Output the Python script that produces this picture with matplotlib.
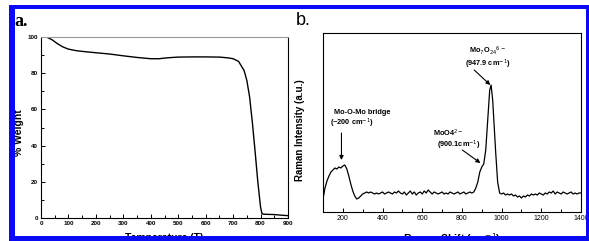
import matplotlib
matplotlib.use("Agg")
import matplotlib.pyplot as plt
from matplotlib.patches import Rectangle
from matplotlib.ticker import MultipleLocator

# TGA data (panel a)
temperature = [20, 40, 60, 80, 100, 130, 160, 200, 250, 300, 350, 400, 430, 460,
               500, 550, 600, 650, 680, 700, 720, 740, 750, 760, 770, 780, 790,
               800, 805, 810, 850, 880, 900]
weight = [100, 98.5, 96.3, 94.5, 93.3, 92.4, 91.9, 91.3, 90.6, 89.6, 88.7, 88.0,
          88.0, 88.5, 88.9, 89.0, 89.0, 88.9, 88.5, 88.0, 86.5, 81.5, 76, 67, 53,
          37, 20, 6, 2.5, 2.1, 1.9, 1.5, 1.3]

# Raman data (panel b), arbitrary intensity units
raman_shift = [100, 101, 110, 120, 130, 140, 150, 160, 170, 180, 190, 200, 210,
               220, 230, 240, 250, 260, 270, 280, 290, 300, 310, 320, 330, 340,
               350, 360, 370, 380, 390, 400, 410, 420, 430, 440, 450, 460, 470,
               480, 490, 500, 510, 520, 530, 540, 550, 560, 570, 580, 590, 600,
               610, 620, 630, 640, 650, 660, 670, 680, 690, 700, 710, 720, 730,
               740, 750, 760, 770, 780, 790, 800, 810, 820, 830, 840, 850, 860,
               870, 880, 890, 900, 910, 920, 930, 940, 947, 955, 960, 970, 980,
               990, 1000, 1010, 1020, 1030, 1040, 1050, 1060, 1070, 1080, 1090,
               1100, 1110, 1120, 1130, 1140, 1150, 1160, 1170, 1180, 1190, 1200,
               1210, 1220, 1230, 1240, 1250, 1260, 1270, 1280, 1290, 1300, 1310,
               1320, 1330, 1340, 1350, 1360, 1370, 1380, 1390, 1400]
raman_int = [0, 14, 24, 31, 36, 40, 42, 44, 43, 45, 44, 46, 47,
             43, 36, 28, 21, 16, 13, 14, 16, 18, 19, 20, 19, 20,
             19, 18, 19, 18, 19, 20, 18, 19, 20, 19, 18, 20, 19,
             21, 19, 18, 20, 17, 19, 21, 18, 20, 17, 19, 20, 18,
             21, 19, 22, 20, 18, 20, 19, 18, 19, 20, 18, 19, 18,
             20, 19, 18, 19, 20, 18, 19, 20, 18, 19, 20, 19, 20,
             24, 30, 40, 45, 48, 62, 92, 122, 127, 112, 95, 60, 30,
             19, 18, 19, 17, 18, 17, 18, 16, 17, 15, 16,
             14, 16, 15, 17, 16, 18, 17, 18, 17, 19, 18,
             17, 19, 18, 20, 19, 21, 18, 20, 19, 18, 20,
             19, 18, 19, 20, 18, 19, 18, 19, 19]

W, H = 589, 241
fig = plt.figure(figsize=(W / 100, H / 100), dpi=100)
fig.patch.set_facecolor("white")


def px_rect(left, top, right, bottom):
    return [left / W, 1 - bottom / H, (right - left) / W, (bottom - top) / H]


bold = dict(family="Liberation Sans", fontweight="bold")

# ---- panel a ----
ax1 = fig.add_axes(px_rect(41, 37, 288, 218))
ax1.plot(temperature, weight, color="black", lw=1.0)
ax1.set_xlim(0, 900)
ax1.set_ylim(0, 100)
ax1.xaxis.set_major_locator(MultipleLocator(100))
ax1.xaxis.set_minor_locator(MultipleLocator(50))
ax1.yaxis.set_major_locator(MultipleLocator(20))
ax1.yaxis.set_minor_locator(MultipleLocator(10))
ax1.tick_params(which="both", direction="in", top=False, right=False, width=0.7)
ax1.tick_params(which="major", length=3, labelsize=4.5, pad=2)
ax1.tick_params(which="minor", length=2)
for lab in ax1.get_xticklabels() + ax1.get_yticklabels():
    lab.set_fontweight("bold")
    lab.set_family("Liberation Sans")
for s in ax1.spines.values():
    s.set_linewidth(0.8)
ax1.spines["top"].set_color("#999999")
fig.text(18.5 / W, 1 - 133 / H, "% Weight", rotation=90, ha="center", va="center",
         fontsize=7.5, **bold)
fig.text(164.5 / W, 1 - 233 / H, "Temperature (T)", ha="center", va="top",
         fontsize=7.5, **bold)
fig.text(14 / W, 1 - 26 / H, "a.", ha="left", va="baseline", fontsize=13,
         family="Liberation Serif", fontweight="bold")

# ---- panel b ----
ax2 = fig.add_axes(px_rect(323, 33, 581, 212))
ax2.plot(raman_shift, raman_int, color="black", lw=0.9)
ax2.set_xlim(100, 1400)
ax2.set_ylim(0, 179)
ax2.xaxis.set_major_locator(MultipleLocator(200))
ax2.xaxis.set_minor_locator(MultipleLocator(100))
ax2.set_yticks([])
ax2.tick_params(which="both", direction="in", top=False, right=False, width=0.7)
ax2.tick_params(which="major", length=3, labelsize=5, pad=2)
ax2.tick_params(which="minor", length=2)
for lab in ax2.get_xticklabels():
    lab.set_family("Liberation Sans")
for s in ax2.spines.values():
    s.set_linewidth(0.8)
fig.text(300 / W, 1 - 130 / H, "Raman Intensity (a.u.)", rotation=90, ha="center",
         va="center", fontsize=7, **bold)
fig.text(452 / W, 1 - 231 / H, "Raman Shift (cm$^{-1}$)", ha="center", va="top",
         fontsize=7.5, **bold)
fig.text(296 / W, 1 - 25 / H, "b.", ha="left", va="baseline", fontsize=13,
         family="Liberation Sans")

arrow = dict(arrowstyle="-|>", color="black", lw=0.8, mutation_scale=6,
             shrinkA=0, shrinkB=0)
ax2.text(300, 100, "Mo-O-Mo bridge", ha="center", va="center", fontsize=5.3, **bold)
ax2.text(245, 89, "(~200 cm$^{-1}$)", ha="center", va="center", fontsize=5.3, **bold)
ax2.annotate("", xy=(193, 52), xytext=(193, 79), arrowprops=arrow)

ax2.text(730, 79, "MoO4$^{2-}$", ha="center", va="center", fontsize=5.3, **bold)
ax2.text(785, 67, "(900.1cm$^{-1}$)", ha="center", va="center", fontsize=5.3, **bold)
ax2.annotate("", xy=(893, 49), xytext=(802, 62), arrowprops=arrow)

ax2.text(927, 161, "Mo$_7$O$_{24}$$^{6-}$", ha="center", va="center", fontsize=5.3, **bold)
ax2.text(932, 148, "(947.9 cm$^{-1}$)", ha="center", va="center", fontsize=5.3, **bold)
ax2.annotate("", xy=(943, 127), xytext=(862, 142), arrowprops=arrow)

# ---- blue frame of the screenshot ----
blue = "#0a0af5"
for left, top, right, bottom in [(9, 5, 589, 9), (9, 5, 15, 241),
                                 (586, 5, 589, 241), (9, 236, 589, 241)]:
    fig.add_artist(Rectangle((left / W, 1 - bottom / H), (right - left) / W,
                             (bottom - top) / H, transform=fig.transFigure,
                             facecolor=blue, edgecolor="none", zorder=10))

fig.savefig("out.png", dpi=100)
